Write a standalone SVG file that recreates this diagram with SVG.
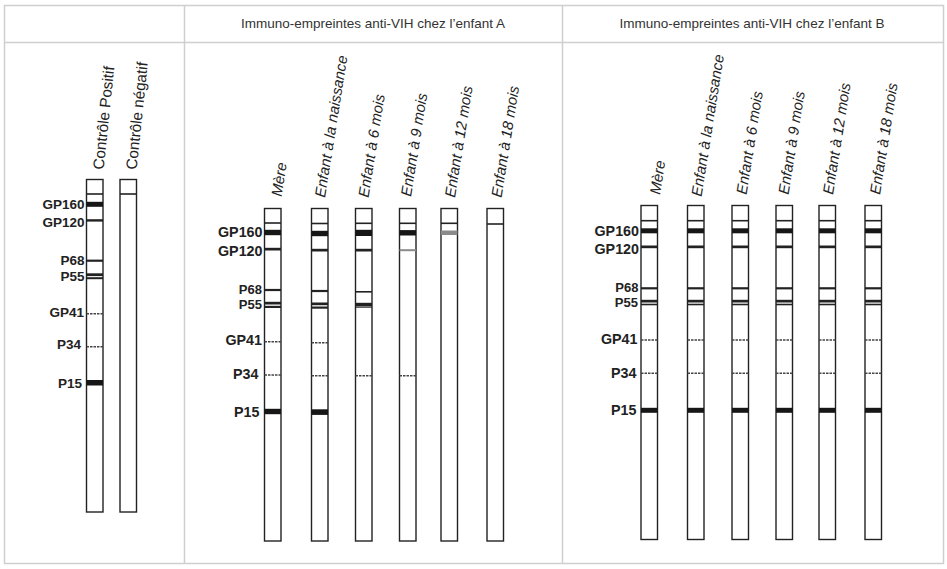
<svg xmlns="http://www.w3.org/2000/svg" xmlns:xlink="http://www.w3.org/1999/xlink" width="947" height="569" viewBox="0 0 947 569">
<style>
.grid{fill:none;stroke:#cfcfcf;stroke-width:1.5}
.hdr{font-family:"Liberation Sans",Arial,sans-serif;font-size:13.5px;fill:#333}
.strip{fill:#fff;stroke:#222;stroke-width:1.4}
.cap{stroke:#222;stroke-width:1.6}
.thick{fill:#161616}
.med{fill:#222}
.thin{stroke:#444;stroke-width:1.5;stroke-dasharray:2.5 1}
.faint{fill:#8a8a8a}
.lbl{font-family:"Liberation Sans",Arial,sans-serif;font-weight:bold;font-size:13.5px;fill:#222;text-anchor:end}
.lblw{font-size:14.3px}
.lbls{font-size:13px}
.col{font-family:"Liberation Sans",Arial,sans-serif;font-style:italic;font-size:15px;fill:#222}
.colr{font-family:"Liberation Sans",Arial,sans-serif;font-size:15.3px;fill:#222}
</style>
<defs>
<g id="bandsB">
<line class="cap" x1="0" y1="220.7" x2="16.5" y2="220.7"/>
<rect class="thick" x="0" y="228.3" width="16.5" height="5"/>
<rect class="med" x="0" y="245.5" width="16.5" height="2.7"/>
<rect class="med" x="0" y="287.2" width="16.5" height="2.2"/>
<rect class="med" x="0" y="299.8" width="16.5" height="2.7"/>
<rect class="med" x="0" y="303.7" width="16.5" height="1.6"/>
<line class="thin" x1="0" y1="340" x2="16.5" y2="340"/>
<line class="thin" x1="0" y1="373.3" x2="16.5" y2="373.3"/>
<rect class="thick" x="0" y="407.8" width="16.5" height="5"/>
</g>
</defs>
<g id="table">
<rect class="grid" x="4.5" y="5.5" width="939" height="558"/>
<line class="grid" x1="4.5" y1="42.5" x2="943.5" y2="42.5"/>
<line class="grid" x1="184.5" y1="5.5" x2="184.5" y2="563.5"/>
<line class="grid" x1="562.5" y1="5.5" x2="562.5" y2="563.5"/>
<text class="hdr" x="373" y="28" text-anchor="middle">Immuno-empreintes anti-VIH chez l’enfant A</text>
<text class="hdr" x="752" y="28" text-anchor="middle">Immuno-empreintes anti-VIH chez l’enfant B</text>
</g>
<g id="connectors"/>
<g id="controls">
<text class="colr" transform="translate(103.5,170) rotate(-84)">Contrôle Positif</text>
<text class="colr" transform="translate(136.5,170) rotate(-84)">Contrôle négatif</text>
<g id="ctrl-pos">
<rect class="strip" x="86.5" y="179.5" width="16.5" height="332.5"/>
<line class="cap" x1="86.5" y1="194" x2="103" y2="194"/>
<rect class="thick" x="86.5" y="201.8" width="16.5" height="5"/>
<rect class="med" x="86.5" y="219.2" width="16.5" height="2.4"/>
<rect class="med" x="86.5" y="259.6" width="16.5" height="2.2"/>
<rect class="med" x="86.5" y="273.3" width="16.5" height="2.8"/>
<rect class="med" x="86.5" y="277.2" width="16.5" height="2"/>
<line class="thin" x1="86.5" y1="313.7" x2="103" y2="313.7"/>
<line class="thin" x1="86.5" y1="346.7" x2="103" y2="346.7"/>
<rect class="thick" x="86.5" y="380" width="16.5" height="5.5"/>
</g>
<g id="ctrl-neg">
<rect class="strip" x="120" y="179.5" width="16.5" height="332.5"/>
<line class="cap" x1="120" y1="194" x2="136.5" y2="194"/>
</g>
<g id="ctrl-labels">
<text class="lbl" x="84.5" y="208.5">GP160</text>
<text class="lbl" x="84.5" y="226.5">GP120</text>
<text class="lbl" x="84.5" y="265">P68</text>
<text class="lbl" x="84.5" y="281">P55</text>
<text class="lbl" x="84" y="316.5">GP41</text>
<text class="lbl" x="81" y="349">P34</text>
<text class="lbl" x="82" y="388">P15</text>
</g>
</g>
<g id="panelA">
<text class="col" transform="translate(281.5,197) rotate(-81)">Mère</text>
<text class="col" transform="translate(325,198) rotate(-81)">Enfant à la naissance</text>
<text class="col" transform="translate(368.5,198) rotate(-81)">Enfant à 6 mois</text>
<text class="col" transform="translate(411,197) rotate(-81)">Enfant à 9 mois</text>
<text class="col" transform="translate(455,198) rotate(-81)">Enfant à 12 mois</text>
<text class="col" transform="translate(501.5,198) rotate(-81)">Enfant à 18 mois</text>
<g id="A-labels">
<text class="lbl lblw" x="262.5" y="237">GP160</text>
<text class="lbl lblw" x="262.5" y="255.5">GP120</text>
<text class="lbl lbls" x="262" y="293.8">P68</text>
<text class="lbl lbls" x="262" y="309">P55</text>
<text class="lbl lblw" x="262" y="345">GP41</text>
<text class="lbl lblw" x="258.5" y="379">P34</text>
<text class="lbl lblw" x="259.5" y="417">P15</text>
</g>
<g id="A-mere">
<rect class="strip" x="264.5" y="208.5" width="16.5" height="332.5"/>
<line class="cap" x1="264.5" y1="223" x2="281" y2="223"/>
<rect class="thick" x="264.5" y="229.8" width="16.5" height="5.4"/>
<rect class="med" x="264.5" y="247.8" width="16.5" height="2.7"/>
<rect class="med" x="264.5" y="288.9" width="16.5" height="2.2"/>
<rect class="med" x="264.5" y="301.8" width="16.5" height="2.7"/>
<rect class="med" x="264.5" y="305.8" width="16.5" height="2.2"/>
<line class="thin" x1="264.5" y1="341.7" x2="281" y2="341.7"/>
<line class="thin" x1="264.5" y1="375" x2="281" y2="375"/>
<rect class="thick" x="264.5" y="408.8" width="16.5" height="5.4"/>
</g>
<g id="A-naissance">
<rect class="strip" x="311.5" y="208.5" width="16.5" height="332.5"/>
<line class="cap" x1="311.5" y1="223.5" x2="328" y2="223.5"/>
<rect class="thick" x="311.5" y="230.8" width="16.5" height="5.4"/>
<rect class="med" x="311.5" y="248.8" width="16.5" height="2.7"/>
<rect class="med" x="311.5" y="289.9" width="16.5" height="2.2"/>
<rect class="med" x="311.5" y="302.5" width="16.5" height="2.7"/>
<rect class="med" x="311.5" y="306.5" width="16.5" height="2.2"/>
<line class="thin" x1="311.5" y1="342.7" x2="328" y2="342.7"/>
<line class="thin" x1="311.5" y1="375.7" x2="328" y2="375.7"/>
<rect class="thick" x="311.5" y="409.3" width="16.5" height="5.6"/>
</g>
<g id="A-6mois">
<rect class="strip" x="355.5" y="208.5" width="16.5" height="332.5"/>
<line class="cap" x1="355.5" y1="223.3" x2="372" y2="223.3"/>
<rect class="thick" x="355.5" y="229.8" width="16.5" height="6.2"/>
<rect class="med" x="355.5" y="248.8" width="16.5" height="2.7"/>
<rect class="med" x="355.5" y="291" width="16.5" height="1.6"/>
<rect class="med" x="355.5" y="302.8" width="16.5" height="3.2"/>
<rect class="med" x="355.5" y="306.4" width="16.5" height="1.3"/>
<line class="thin" x1="355.5" y1="375.7" x2="372" y2="375.7"/>
</g>
<g id="A-9mois">
<rect class="strip" x="399.5" y="208.5" width="16.5" height="332.5"/>
<line class="cap" x1="399.5" y1="223.3" x2="416" y2="223.3"/>
<rect class="thick" x="399.5" y="230.1" width="16.5" height="5.4"/>
<rect class="faint" x="399.5" y="249.2" width="16.5" height="2"/>
<line class="thin" x1="399.5" y1="375.7" x2="416" y2="375.7"/>
</g>
<g id="A-12mois">
<rect class="strip" x="441" y="208.5" width="16.5" height="332.5"/>
<line class="cap" x1="441" y1="223.3" x2="457.5" y2="223.3"/>
<rect class="faint" x="441" y="230.5" width="16.5" height="4.5"/>
</g>
<g id="A-18mois">
<rect class="strip" x="487" y="208.5" width="16.5" height="332.5"/>
<line class="cap" x1="487" y1="224" x2="503.5" y2="224"/>
</g>
</g>
<g id="panelB">
<text class="col" transform="translate(660,195) rotate(-81)">Mère</text>
<text class="col" transform="translate(701.5,197) rotate(-81)">Enfant à la naissance</text>
<text class="col" transform="translate(746.5,195) rotate(-81)">Enfant à 6 mois</text>
<text class="col" transform="translate(788.5,195) rotate(-81)">Enfant à 9 mois</text>
<text class="col" transform="translate(833,195) rotate(-81)">Enfant à 12 mois</text>
<text class="col" transform="translate(880,195) rotate(-81)">Enfant à 18 mois</text>
<g id="B-labels">
<text class="lbl lblw" x="639" y="235.5">GP160</text>
<text class="lbl lblw" x="639" y="253.5">GP120</text>
<text class="lbl lbls" x="638.5" y="291.8">P68</text>
<text class="lbl lbls" x="638" y="307">P55</text>
<text class="lbl lblw" x="637.5" y="343.5">GP41</text>
<text class="lbl lblw" x="636.5" y="377.5">P34</text>
<text class="lbl lblw" x="636.5" y="415">P15</text>
</g>
<g id="B-mere"><rect class="strip" x="641" y="205.5" width="16.5" height="334"/><use xlink:href="#bandsB" x="641"/></g>
<g id="B-naissance"><rect class="strip" x="687.5" y="205.5" width="16.5" height="334"/><use xlink:href="#bandsB" x="687.5"/></g>
<g id="B-6mois"><rect class="strip" x="732" y="205.5" width="16.5" height="334"/><use xlink:href="#bandsB" x="732"/></g>
<g id="B-9mois"><rect class="strip" x="776" y="205.5" width="16.5" height="334"/><use xlink:href="#bandsB" x="776"/></g>
<g id="B-12mois"><rect class="strip" x="819" y="205.5" width="16.5" height="334"/><use xlink:href="#bandsB" x="819"/></g>
<g id="B-18mois"><rect class="strip" x="865" y="205.5" width="16.5" height="334"/><use xlink:href="#bandsB" x="865"/></g>
</g>
</svg>
